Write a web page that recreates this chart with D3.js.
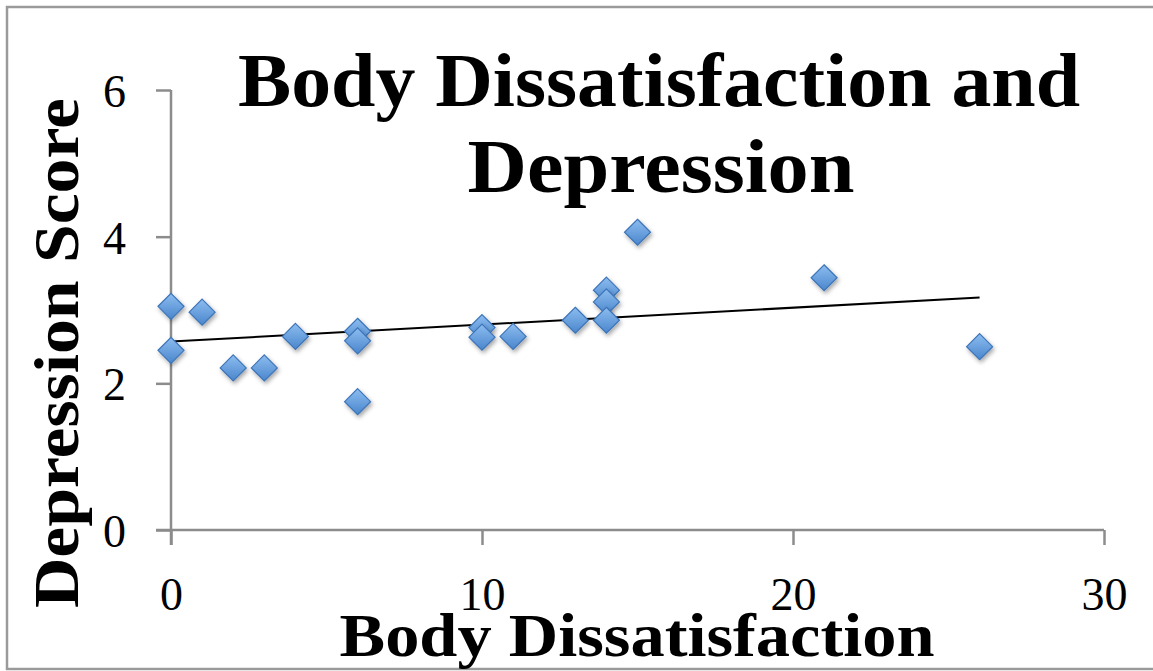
<!DOCTYPE html>
<html><head><meta charset="utf-8">
<script src="https://cdn.jsdelivr.net/npm/d3@7"></script>
<style>html,body{margin:0;padding:0;background:#fff;}svg{display:block;}</style>
</head><body>
<script>
// Data
const bodyDissatisfaction = [0, 0, 1, 2, 3, 4, 6, 6, 6, 10, 10, 11, 13, 14, 14, 14, 15, 21, 26];
const depressionScore =     [3.05, 2.45, 2.97, 2.21, 2.21, 2.64, 2.71, 2.58, 1.75, 2.76, 2.63, 2.64, 2.86, 3.27, 3.11, 2.86, 4.06, 3.44, 2.50];
const trendX = [0, 26];
const trendY = [2.57, 3.17];
const xTicks = [0, 10, 20, 30];
const yTicks = [0, 2, 4, 6];
const titleLines = ["Body Dissatisfaction and", "Depression"];
const xLabel = "Body Dissatisfaction";
const yLabel = "Depression Score";

const W = 1153, H = 671;
const svg = d3.select("body").append("svg").attr("width", W).attr("height", H);
const serif = "'Liberation Serif','DejaVu Serif',serif";

const defs = svg.append("defs");
const grad = defs.append("linearGradient").attr("id", "dg").attr("x1", 0).attr("y1", 0).attr("x2", 0).attr("y2", 1);
grad.append("stop").attr("offset", "0%").attr("stop-color", "#8dbdf0");
grad.append("stop").attr("offset", "100%").attr("stop-color", "#4a86cc");
const f = defs.append("filter").attr("id", "sh").attr("x", "-50%").attr("y", "-50%").attr("width", "200%").attr("height", "200%");
f.append("feDropShadow").attr("dx", 1.5).attr("dy", 2.5).attr("stdDeviation", 2).attr("flood-color", "#000").attr("flood-opacity", 0.35);

// outer border
svg.append("rect").attr("x", 7).attr("y", 7).attr("width", 1150).attr("height", 662)
  .attr("fill", "none").attr("stroke", "#9a9a9a").attr("stroke-width", 2.5);

const x = d3.scaleLinear().domain([0, 30]).range([171, 1104]);
const y = d3.scaleLinear().domain([0, 6]).range([530, 90]);
const axisColor = "#8c8c8c";

// axes
const gx = svg.append("g").attr("transform", `translate(0,${y(0)})`)
  .call(d3.axisBottom(x).tickValues(xTicks).tickFormat(d3.format("d")).tickSize(15).tickPadding(32));
const gy = svg.append("g").attr("transform", `translate(${x(0)},0)`)
  .call(d3.axisLeft(y).tickValues(yTicks).tickFormat(d3.format("d")).tickSize(15).tickPadding(30));
[gx, gy].forEach(g => {
  g.select(".domain").remove();
  g.selectAll("line").attr("stroke", axisColor).attr("stroke-width", 2.5);
  g.selectAll("text").attr("font-family", serif).attr("font-size", 46).attr("fill", "#000");
});
gx.selectAll("text").attr("dy", "0.71em");
gy.selectAll("text").attr("dy", "0.36em");
// axis lines (extend past origin like the original)
svg.append("line").attr("x1", x(0) - 15).attr("x2", x(30)).attr("y1", y(0)).attr("y2", y(0))
  .attr("stroke", axisColor).attr("stroke-width", 2.5);
svg.append("line").attr("x1", x(0)).attr("x2", x(0)).attr("y1", y(6)).attr("y2", y(0) + 15)
  .attr("stroke", axisColor).attr("stroke-width", 2.5);

// trend line
const line = d3.line().x(d => x(d[0])).y(d => y(d[1]));
svg.append("path").datum(d3.zip(trendX, trendY)).attr("d", line)
  .attr("fill", "none").attr("stroke", "#000").attr("stroke-width", 2);

// points
const pts = d3.zip(bodyDissatisfaction, depressionScore);
svg.append("g").selectAll("path").data(pts).join("path")
  .attr("transform", d => `translate(${x(d[0])},${y(d[1])})`)
  .attr("d", "M0,-13L13,0L0,13L-13,0Z")
  .attr("fill", "url(#dg)").attr("stroke", "#3c74b8").attr("stroke-width", 1.2)
  .attr("filter", "url(#sh)");

// texts fitted to width
function fitText(t, w) { t.attr("textLength", w).attr("lengthAdjust", "spacingAndGlyphs"); }
const t1 = svg.append("text").attr("x", 659).attr("y", 106).attr("text-anchor", "middle")
  .attr("font-family", serif).attr("font-weight", "bold").attr("font-size", 76).text(titleLines[0]);
fitText(t1, 842);
const t2 = svg.append("text").attr("x", 661).attr("y", 192).attr("text-anchor", "middle")
  .attr("font-family", serif).attr("font-weight", "bold").attr("font-size", 76).text(titleLines[1]);
fitText(t2, 387);
const xl = svg.append("text").attr("x", 637).attr("y", 656).attr("text-anchor", "middle")
  .attr("font-family", serif).attr("font-weight", "bold").attr("font-size", 62).text(xLabel);
fitText(xl, 595);
const yl = svg.append("text").attr("transform", "translate(78,353) rotate(-90)").attr("text-anchor", "middle")
  .attr("font-family", serif).attr("font-weight", "bold").attr("font-size", 64).text(yLabel);
fitText(yl, 510);
</script>
</body></html>
